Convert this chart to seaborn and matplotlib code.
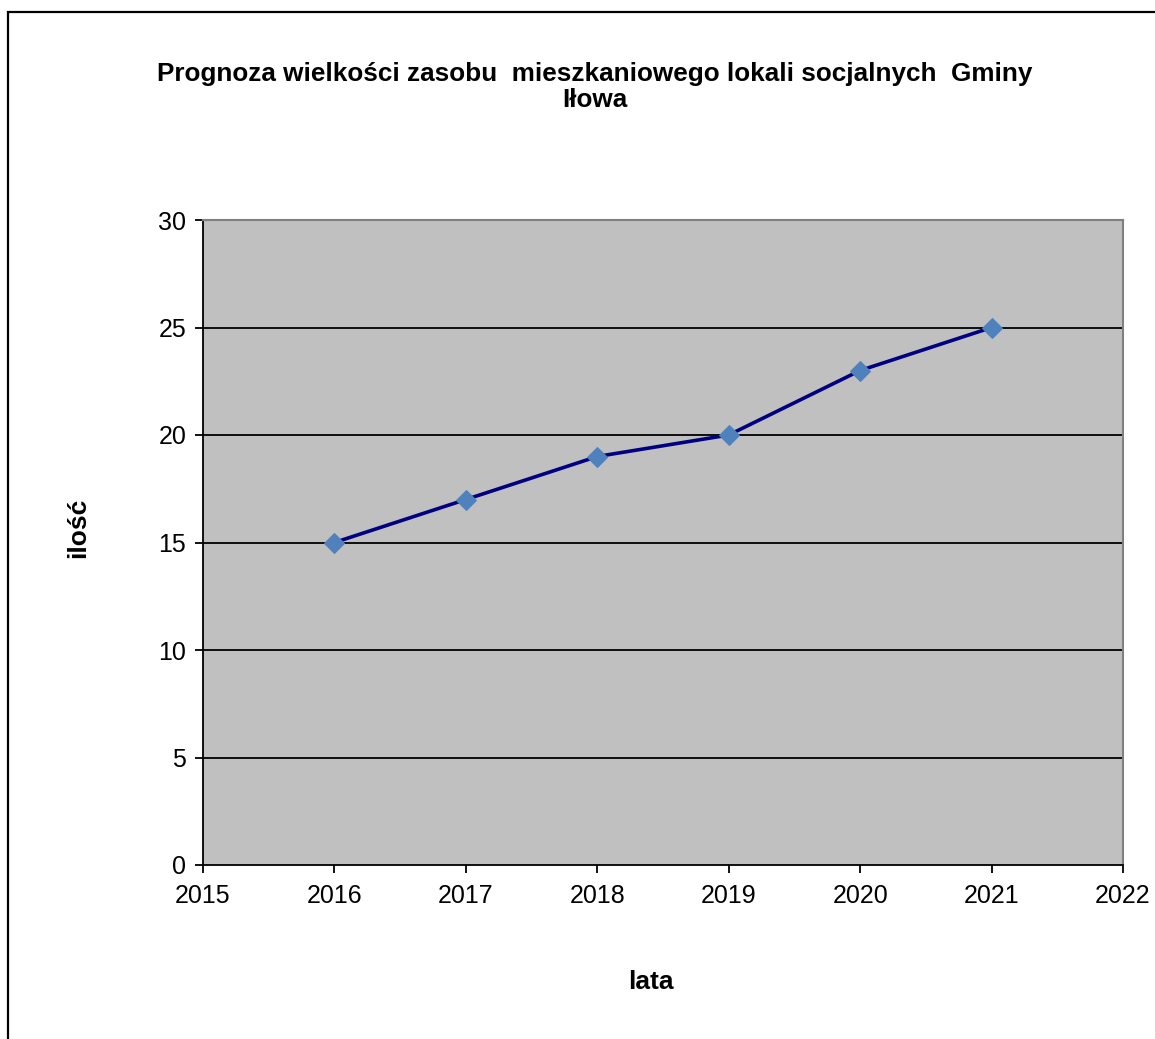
import matplotlib
matplotlib.use("Agg")
import matplotlib.pyplot as plt
import seaborn as sns
import pandas as pd
from matplotlib.patches import Rectangle

years = [2016, 2017, 2018, 2019, 2020, 2021]
counts = [15, 17, 19, 20, 23, 25]
x_ticks = [2015, 2016, 2017, 2018, 2019, 2020, 2021, 2022]
y_ticks = [0, 5, 10, 15, 20, 25, 30]

df = pd.DataFrame({"lata": years, "ilosc": counts})

sns.set_style("white")
plt.rcParams["font.family"] = ["Liberation Sans", "DejaVu Sans"]
plt.rcParams["text.color"] = "black"
plt.rcParams["axes.labelcolor"] = "black"

fig = plt.figure(figsize=(11.55, 10.39), dpi=100)
ax = fig.add_axes([203/1155, 1-865/1039, 920/1155, 645/1039])
ax.set_facecolor("#C0C0C0")

sns.lineplot(data=df, x="lata", y="ilosc", ax=ax, color="#000080", linewidth=2.6,
             marker="D", markersize=10, markerfacecolor="#4F81BD",
             markeredgecolor="#4F81BD", zorder=3)

ax.set_xlim(2015, 2022)
ax.set_ylim(0, 30)
ax.set_xticks(x_ticks)
ax.set_yticks(y_ticks)
ax.set_xticklabels([str(t) for t in x_ticks])
ax.set_yticklabels([str(t) for t in y_ticks])
for y in y_ticks[1:-1]:
    ax.axhline(y, color="black", linewidth=1.3, zorder=1)

ax.tick_params(axis="both", direction="out", length=6, width=1.3, color="black",
               labelsize=18, labelcolor="black", pad=6)
ax.tick_params(axis="x", pad=8)
ax.tick_params(axis="x", bottom=True)
ax.tick_params(axis="y", left=True)
ax.spines["left"].set_color("black")
ax.spines["bottom"].set_color("black")
ax.spines["left"].set_linewidth(1.3)
ax.spines["bottom"].set_linewidth(1.3)
ax.spines["top"].set_color("#808080")
ax.spines["right"].set_color("#808080")
ax.spines["top"].set_linewidth(1.5)
ax.spines["right"].set_linewidth(1.5)

ax.set_xlabel("lata", fontsize=19, fontweight="bold")
ax.set_ylabel("ilość", fontsize=19, fontweight="bold")
ax.xaxis.set_label_coords((651-203)/920, (865-982)/645)
ax.yaxis.set_label_coords((78-203)/920, (865-528)/645)
ax.xaxis.label.set_va("center")
ax.yaxis.label.set_va("center")

fig.text(595/1155, 1-87/1039,
         "Prognoza wielkości zasobu  mieszkaniowego lokali socjalnych  Gminy\nIłowa",
         ha="center", va="center", multialignment="center",
         fontsize=18.8, fontweight="bold", linespacing=1.1)

fig.patches.append(Rectangle((8/1155, -0.1), 1.5, 1 - 12/1039 + 0.1,
                             transform=fig.transFigure, fill=False,
                             edgecolor="black", linewidth=1.6))

fig.savefig("out.png", dpi=100)
